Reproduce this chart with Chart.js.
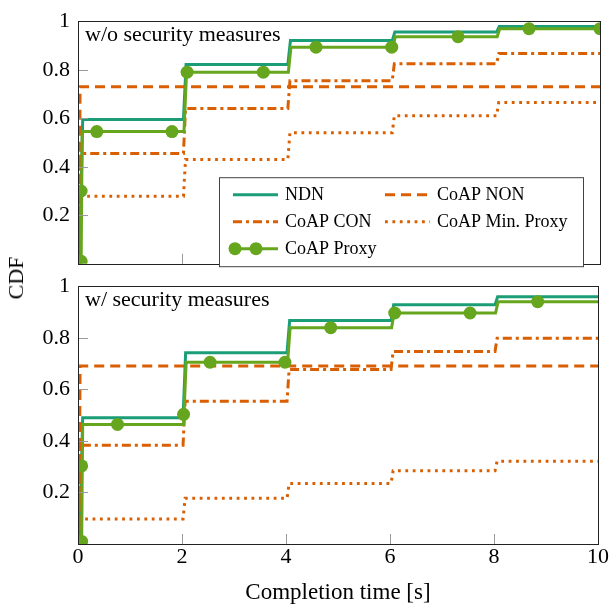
<!DOCTYPE html>
<html>
<head>
<meta charset="utf-8">
<script src="https://cdn.jsdelivr.net/npm/chart.js@4"></script>
<style>
  html, body { margin: 0; padding: 0; background: #fff; }
  #wrap { position: relative; width: 611px; height: 607px; }
  .pane { position: absolute; left: 0; width: 611px; }
  #ylab {
    position: absolute; left: 16px; top: 278px;
    transform: translate(-50%, -50%) rotate(-90deg);
    font: 22px "Liberation Serif", serif; color: #000; white-space: nowrap;
  }
</style>
</head>
<body>
<div id="wrap">
  <div class="pane" style="top:0;height:285px"><canvas id="topChart"></canvas></div>
  <div class="pane" style="top:265px;height:342px"><canvas id="botChart"></canvas></div>
  <div id="ylab">CDF</div>
</div>
<script>
const seriesNames = ['NDN', 'CoAP NON', 'CoAP CON', 'CoAP Min. Proxy', 'CoAP Proxy'];
const panelTitles = ['w/o security measures', 'w/ security measures'];
const xTicks = [0, 2, 4, 6, 8, 10];
const yTicks = [0.2, 0.4, 0.6, 0.8, 1];

// step corners (x in s), shared by the stepped series
const stepX = [0.02, 0.05, 2.02, 2.06, 4.02, 4.06, 6.02, 6.06, 8.02, 8.06, 10];
const ndnX = [0.03, 0.09, 2.02, 2.07, 4.02, 4.07, 6.02, 6.07, 8.02, 8.07, 10];
const nonX = [0.02, 0.04, 10];

// --- w/o security measures ---
const ndnWo = [0, 0.595, 0.595, 0.822, 0.822, 0.92, 0.92, 0.955, 0.955, 0.978, 0.978];
const nonWo = [0, 0.73, 0.73];
const conWo = [0, 0.455, 0.455, 0.64, 0.64, 0.755, 0.755, 0.825, 0.825, 0.867, 0.867];
const minWo = [0, 0.278, 0.278, 0.43, 0.43, 0.54, 0.54, 0.61, 0.61, 0.665, 0.665];
const proxyWoX = [0.06, 0.08, 2.03, 2.08, 4.03, 4.08, 6.03, 6.08, 8.03, 8.08, 10];
const proxyWo = [0, 0.545, 0.545, 0.79, 0.79, 0.893, 0.893, 0.936, 0.936, 0.969, 0.969];
const proxyWoMarkX = [0.06, 0.06, 0.36, 1.8, 2.09, 3.55, 4.56, 6.01, 7.28, 8.64, 10];
const proxyWoMarkY = [0.01, 0.3, 0.545, 0.545, 0.79, 0.79, 0.893, 0.893, 0.936, 0.969, 0.969];

// --- w/ security measures ---
const ndnW = [0, 0.49, 0.49, 0.742, 0.742, 0.867, 0.867, 0.928, 0.928, 0.959, 0.959];
const nonW = [0, 0.69, 0.69];
const conW = [0, 0.383, 0.383, 0.554, 0.554, 0.677, 0.677, 0.747, 0.747, 0.798, 0.798];
const minW = [0, 0.097, 0.097, 0.177, 0.177, 0.235, 0.235, 0.284, 0.284, 0.321, 0.321];
const proxyWX = [0.07, 0.09, 2.03, 2.08, 4.03, 4.08, 6.03, 6.08, 8.03, 8.08, 10];
const proxyW = [0, 0.464, 0.464, 0.705, 0.705, 0.839, 0.839, 0.896, 0.896, 0.94, 0.94];
const proxyWMarkX = [0.07, 0.07, 0.76, 2.03, 2.54, 3.98, 4.86, 6.09, 7.54, 8.84];
const proxyWMarkY = [0.01, 0.303, 0.464, 0.503, 0.705, 0.705, 0.839, 0.896, 0.896, 0.94];

const TEAL = '#1b9e77', ORANGE = '#d95f02', GREEN = '#66a61e';
const FONT = '"Liberation Serif", serif';

const pts = (xs, ys) => xs.map((x, i) => ({ x: x, y: ys[i] }));

function makeDatasets(ndn, non, con, min, proxyX, proxy, markX, markY) {
  // first in list is drawn on top
  return [
    { label: '', data: pts(markX, markY), showLine: false, pointRadius: 6.5, clip: 0,
      pointBackgroundColor: GREEN, pointBorderWidth: 0, pointHoverRadius: 6.5 },
    { label: seriesNames[4], data: pts(proxyX, proxy), borderColor: GREEN, borderWidth: 3, pointRadius: 0 },
    { label: seriesNames[3], data: pts(stepX, min), borderColor: ORANGE, borderWidth: 3, borderDash: [2.8, 4.6], pointRadius: 0 },
    { label: seriesNames[2], data: pts(stepX, con), borderColor: ORANGE, borderWidth: 3, borderDash: [9, 4, 3, 4], pointRadius: 0 },
    { label: seriesNames[1], data: pts(nonX, non), borderColor: ORANGE, borderWidth: 3, borderDash: [10, 6], pointRadius: 0 },
    { label: seriesNames[0], data: pts(ndnX, ndn), borderColor: TEAL, borderWidth: 3, pointRadius: 0 }
  ];
}

const framePlugin = {
  id: 'frame',
  afterDatasetsDraw(chart, args, opts) {
    const { ctx, chartArea: a, scales } = chart;
    ctx.save();
    ctx.strokeStyle = '#9a9a9a';
    ctx.lineWidth = 1;
    ctx.beginPath();
    yTicks.forEach(v => {
      if (v >= 1) return;
      const y = Math.round(scales.y.getPixelForValue(v)) + 0.5;
      ctx.moveTo(a.left, y); ctx.lineTo(a.left + 10, y);
    });
    xTicks.forEach(v => {
      if (v <= 0 || v >= 10) return;
      const x = Math.round(scales.x.getPixelForValue(v)) + 0.5;
      ctx.moveTo(x, a.bottom); ctx.lineTo(x, a.bottom - 10);
    });
    ctx.stroke();
    ctx.strokeStyle = '#222';
    ctx.strokeRect(Math.round(a.left) + 0.5, Math.round(a.top) + 0.5,
      Math.round(a.right - a.left), Math.round(a.bottom - a.top));
    ctx.fillStyle = '#000';
    ctx.font = '22px ' + FONT;
    ctx.textBaseline = 'alphabetic';
    ctx.textAlign = 'left';
    ctx.fillText(opts.title, a.left + 7, a.top + 20);
    ctx.restore();
  }
};

const legendPlugin = {
  id: 'boxLegend',
  afterDraw(chart, args, opts) {
    if (!opts.show) return;
    const { ctx, chartArea: a } = chart;
    const x0 = a.left + 141, y0 = a.top + 156, w = 364, h = 89;
    const byLabel = {};
    chart.data.datasets.forEach(d => { if (d.label) byLabel[d.label] = d; });
    const marks = chart.data.datasets[0];
    ctx.save();
    ctx.fillStyle = '#fff';
    ctx.fillRect(x0, y0, w, h);
    ctx.strokeStyle = '#444';
    ctx.lineWidth = 1;
    ctx.strokeRect(x0 + 0.5, y0 + 0.5, w, h);
    ctx.font = '18px ' + FONT;
    ctx.textBaseline = 'middle';
    ctx.textAlign = 'left';
    seriesNames.forEach((name, i) => {
      const d = byLabel[name];
      const col = i % 2, row = Math.floor(i / 2);
      const sx = x0 + 14 + col * 152;
      const sy = y0 + 17.5 + row * 27;
      ctx.strokeStyle = d.borderColor;
      ctx.lineWidth = d.borderWidth;
      ctx.setLineDash(d.borderDash || []);
      ctx.beginPath();
      ctx.moveTo(sx, sy); ctx.lineTo(sx + 45, sy);
      ctx.stroke();
      ctx.setLineDash([]);
      if (name === seriesNames[4]) {
        ctx.fillStyle = marks.pointBackgroundColor;
        [sx + 2, sx + 23].forEach(mx => {
          ctx.beginPath();
          ctx.arc(mx, sy, marks.pointRadius, 0, Math.PI * 2);
          ctx.fill();
        });
      }
      ctx.fillStyle = '#000';
      ctx.fillText(name, sx + 52, sy + 1);
    });
    ctx.restore();
  }
};

function makeChart(id, datasets, title, isBottom) {
  return new Chart(document.getElementById(id), {
    type: 'line',
    data: { datasets: datasets },
    plugins: [framePlugin, legendPlugin],
    options: {
      responsive: true,
      maintainAspectRatio: false,
      animation: false,
      events: [],
      layout: { padding: isBottom ? { left: 0, right: 11, top: 20, bottom: 0 } : { left: 0, right: 11, top: 15, bottom: 12 } },
      elements: { line: { tension: 0 } },
      scales: {
        x: {
          type: 'linear', min: 0, max: 10,
          afterBuildTicks: s => { s.ticks = xTicks.map(v => ({ value: v })); },
          grid: { display: false, drawTicks: false },
          border: { display: false },
          ticks: { display: isBottom, color: '#000', padding: 2, maxRotation: 0,
                   font: { family: FONT, size: 22, lineHeight: 1 } },
          title: { display: isBottom, text: 'Completion time [s]', color: '#000',
                   font: { family: FONT, size: 23 }, padding: { top: 0, bottom: 0 } },
          afterFit: s => { s.height = isBottom ? 63 : 0; }
        },
        y: {
          min: 0, max: 1,
          afterBuildTicks: s => { s.ticks = yTicks.map(v => ({ value: v })); },
          grid: { display: false, drawTicks: false },
          border: { display: false },
          ticks: { color: '#000', padding: 8, font: { family: FONT, size: 22 },
                   callback: v => String(Math.round(v * 10) / 10) },
          afterFit: s => { s.width = 78; }
        }
      },
      plugins: {
        legend: { display: false },
        tooltip: { enabled: false },
        frame: { title: title },
        boxLegend: { show: !isBottom }
      }
    }
  });
}

makeChart('topChart', makeDatasets(ndnWo, nonWo, conWo, minWo, proxyWoX, proxyWo, proxyWoMarkX, proxyWoMarkY), panelTitles[0], false);
makeChart('botChart', makeDatasets(ndnW, nonW, conW, minW, proxyWX, proxyW, proxyWMarkX, proxyWMarkY), panelTitles[1], true);
</script>
</body>
</html>
